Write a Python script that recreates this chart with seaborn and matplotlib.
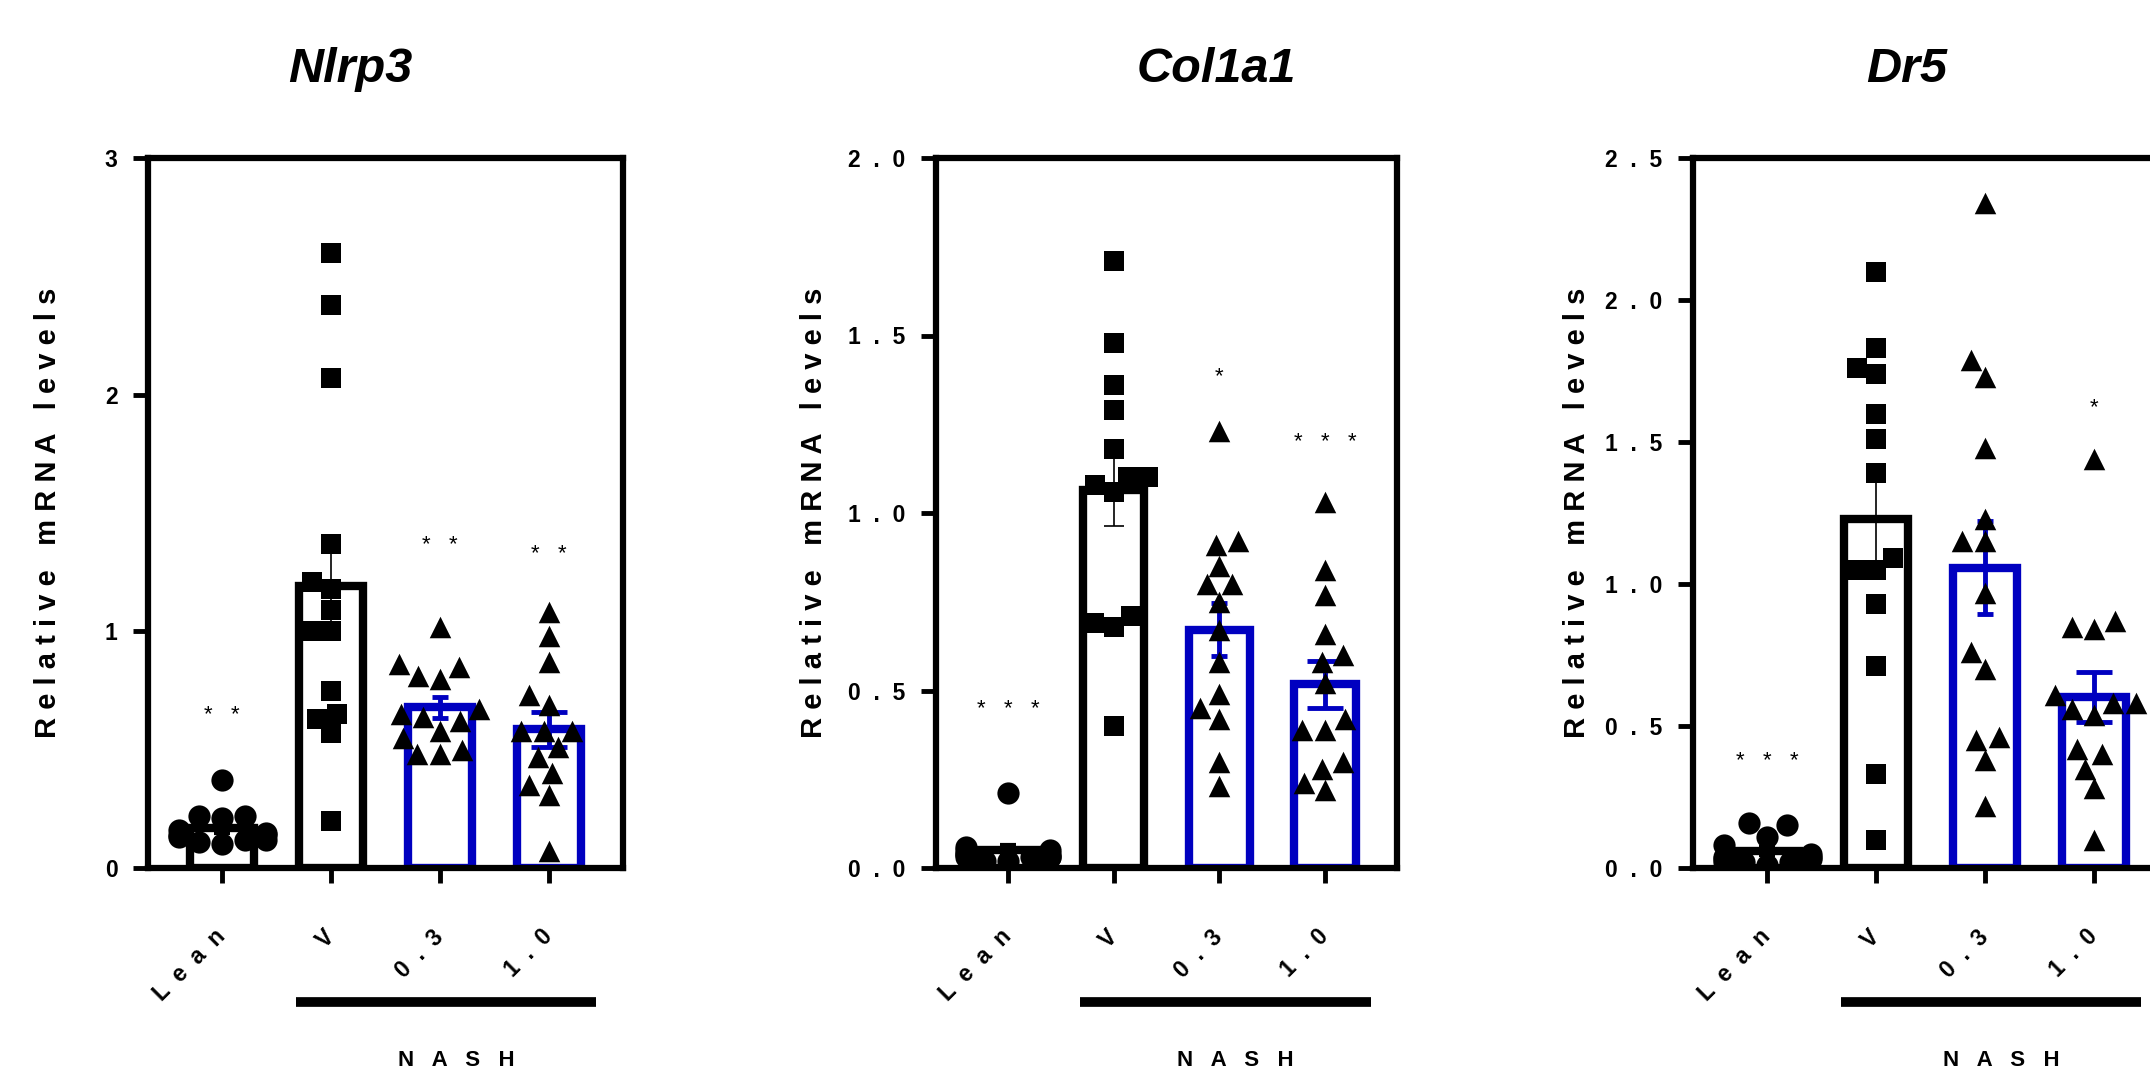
import warnings
import pandas as pd
import seaborn as sns
import matplotlib.pyplot as plt

warnings.filterwarnings("ignore")

# groups on the x axis
groups = ["Lean", "V", "0.3", "1.0"]

# Nlrp3 relative mRNA levels
nlrp3_lean = [0.37, 0.22, 0.22, 0.21, 0.16, 0.14, 0.13, 0.12, 0.11, 0.10, 0.12, 0.14, 0.15]
nlrp3_v = [2.60, 2.38, 2.07, 1.37, 1.18, 1.21, 1.09, 1.00, 1.00, 0.75, 0.63, 0.65, 0.57, 0.20]
nlrp3_03 = [1.02, 0.85, 0.80, 0.81, 0.86, 0.67, 0.64, 0.62, 0.65, 0.58, 0.55, 0.50, 0.48, 0.48]
nlrp3_10 = [1.08, 0.98, 0.87, 0.73, 0.69, 0.58, 0.58, 0.58, 0.51, 0.47, 0.40, 0.35, 0.31, 0.07]

# Col1a1 relative mRNA levels
col1a1_lean = [0.21, 0.06, 0.05, 0.04, 0.03, 0.03, 0.02, 0.03, 0.04, 0.02, 0.03, 0.05, 0.04]
col1a1_v = [1.71, 1.48, 1.36, 1.29, 1.18, 1.10, 1.10, 1.06, 1.08, 0.69, 0.68, 0.71, 0.40]
col1a1_03 = [1.23, 0.92, 0.91, 0.85, 0.80, 0.80, 0.75, 0.67, 0.58, 0.49, 0.45, 0.42, 0.30, 0.23]
col1a1_10 = [1.03, 0.84, 0.77, 0.66, 0.60, 0.58, 0.52, 0.42, 0.39, 0.39, 0.28, 0.30, 0.24, 0.22]

# Dr5 relative mRNA levels
dr5_lean = [0.16, 0.15, 0.11, 0.08, 0.05, 0.04, 0.03, 0.02, 0.02, 0.01, 0.02, 0.03, 0.04]
dr5_v = [2.10, 1.83, 1.76, 1.74, 1.60, 1.51, 1.39, 1.09, 1.05, 1.05, 0.93, 0.71, 0.33, 0.10]
dr5_03 = [2.34, 1.79, 1.73, 1.48, 1.23, 1.15, 1.15, 0.97, 0.76, 0.70, 0.45, 0.46, 0.38, 0.22]
dr5_10 = [1.44, 0.87, 0.84, 0.85, 0.58, 0.56, 0.58, 0.61, 0.54, 0.40, 0.35, 0.42, 0.28, 0.10]

# y ticks
nlrp3_ticks = [0, 1, 2, 3]
nlrp3_ticklabels = ["0", "1", "2", "3"]
col1a1_ticks = [0.0, 0.5, 1.0, 1.5, 2.0]
col1a1_ticklabels = ["0.0", "0.5", "1.0", "1.5", "2.0"]
dr5_ticks = [0.0, 0.5, 1.0, 1.5, 2.0, 2.5]
dr5_ticklabels = ["0.0", "0.5", "1.0", "1.5", "2.0", "2.5"]

# significance vs V
nlrp3_stars = ["**", "", "**", "**"]
col1a1_stars = ["***", "", "*", "***"]
dr5_stars = ["***", "", "", "*"]

BLUE = "#0000C0"
palette = {"Lean": "black", "V": "black", "0.3": BLUE, "1.0": BLUE}
markers = {"Lean": "o", "V": "s", "0.3": "^", "1.0": "^"}
msize = {"Lean": 16, "V": 14, "0.3": 15.5, "1.0": 15.5}
err_style = {
    "Lean": dict(color="black", lw=3.0, capsize=6, capthick=3.0),
    "V": dict(color="black", lw=1.2, capsize=7, capthick=1.2),
    "0.3": dict(color=BLUE, lw=3.5, capsize=6, capthick=3.5),
    "1.0": dict(color=BLUE, lw=3.5, capsize=13, capthick=3.5),
}


def spaced(text, gap=1):
    return (" " * gap).join(text)


W, H = 2150, 1070
plt.rcParams["font.family"] = ["Liberation Sans", "DejaVu Sans"]
plt.rcParams["font.weight"] = "bold"

fig = plt.figure(figsize=(W / 100, H / 100), dpi=100)

panels = [
    dict(gene="Nlrp3", data=[nlrp3_lean, nlrp3_v, nlrp3_03, nlrp3_10],
         ticks=nlrp3_ticks, labels=nlrp3_ticklabels, stars=nlrp3_stars,
         star_y=[0.67, 0, 1.385, 1.35], left=148, width=475, title_x=350, ylab=-0.18),
    dict(gene="Col1a1", data=[col1a1_lean, col1a1_v, col1a1_03, col1a1_10],
         ticks=col1a1_ticks, labels=col1a1_ticklabels, stars=col1a1_stars,
         star_y=[0.463, 0, 1.40, 1.213], left=936, width=461, title_x=1216, ylab=-0.235),
    dict(gene="Dr5", data=[dr5_lean, dr5_v, dr5_03, dr5_10],
         ticks=dr5_ticks, labels=dr5_ticklabels, stars=dr5_stars,
         star_y=[0.393, 0, 0, 1.642], left=1693, width=475, title_x=1907, ylab=-0.215),
]

for p in panels:
    ax = fig.add_axes([p["left"] / W, 1 - 868 / H, p["width"] / W, 710 / H])
    df = pd.concat(
        [pd.DataFrame({"group": g, "value": v}) for g, v in zip(groups, p["data"])],
        ignore_index=True,
    )

    sns.barplot(data=df, x="group", y="value", hue="group", order=groups,
                hue_order=groups, palette=palette, errorbar=None, fill=False,
                linewidth=6, width=0.58, legend=False, ax=ax, zorder=1)

    stats = df.groupby("group")["value"].agg(["mean", "sem"]).reindex(groups)
    for i, g in enumerate(groups):
        st = err_style[g]
        ax.errorbar(i, stats.loc[g, "mean"], yerr=stats.loc[g, "sem"], fmt="none",
                    ecolor=st["color"], elinewidth=st["lw"], capsize=st["capsize"],
                    capthick=st["capthick"], zorder=3)

    for g in groups:
        sub = df[df["group"] == g]
        sns.swarmplot(data=sub, x="group", y="value", order=groups,
                      marker=markers[g], color="black", size=msize[g],
                      linewidth=0, ax=ax, zorder=4)

    for i, (s, y) in enumerate(zip(p["stars"], p["star_y"])):
        if s:
            ax.annotate(spaced(s, 3), xy=(i, y), xytext=(0, -8),
                        textcoords="offset points", ha="center", va="baseline",
                        fontsize=16, fontweight="normal")

    ax.set_xlim(-0.68, 3.68)
    ax.set_ylim(0, p["ticks"][-1])
    ax.set_yticks(p["ticks"])
    ax.set_yticklabels([spaced(t, 2) for t in p["labels"]])
    ax.set_xticks(range(len(groups)))
    ax.set_xticklabels([spaced(g, 2) for g in groups], rotation=45, ha="right",
                       va="center", rotation_mode="anchor")
    ax.tick_params(axis="both", length=11, width=3.5, labelsize=16.5, direction="out")
    ax.tick_params(axis="x", pad=36)
    ax.tick_params(axis="y", pad=11)
    for sp in ax.spines.values():
        sp.set_linewidth(4.5)
        sp.set_color("black")

    ax.set_xlabel("")
    ax.set_ylabel(spaced("Relative mRNA levels"), fontsize=21, fontweight="bold")
    ax.yaxis.set_label_coords(p["ylab"], 0.5)

    # NASH group bracket
    xt = ax.get_xaxis_transform()
    ax.plot([0.68, 3.43], [-0.189, -0.189], color="black", lw=7,
            solid_capstyle="butt", transform=xt, clip_on=False)
    ax.text(2.15, -0.279, spaced("NASH", 3), transform=xt, ha="center",
            va="baseline", fontsize=16, fontweight="bold")

    fig.text(p["title_x"] / W, 1 - 82 / H, p["gene"], fontsize=35,
             fontweight="bold", fontstyle="italic", ha="center", va="baseline")

fig.savefig("out.png", dpi=100)
